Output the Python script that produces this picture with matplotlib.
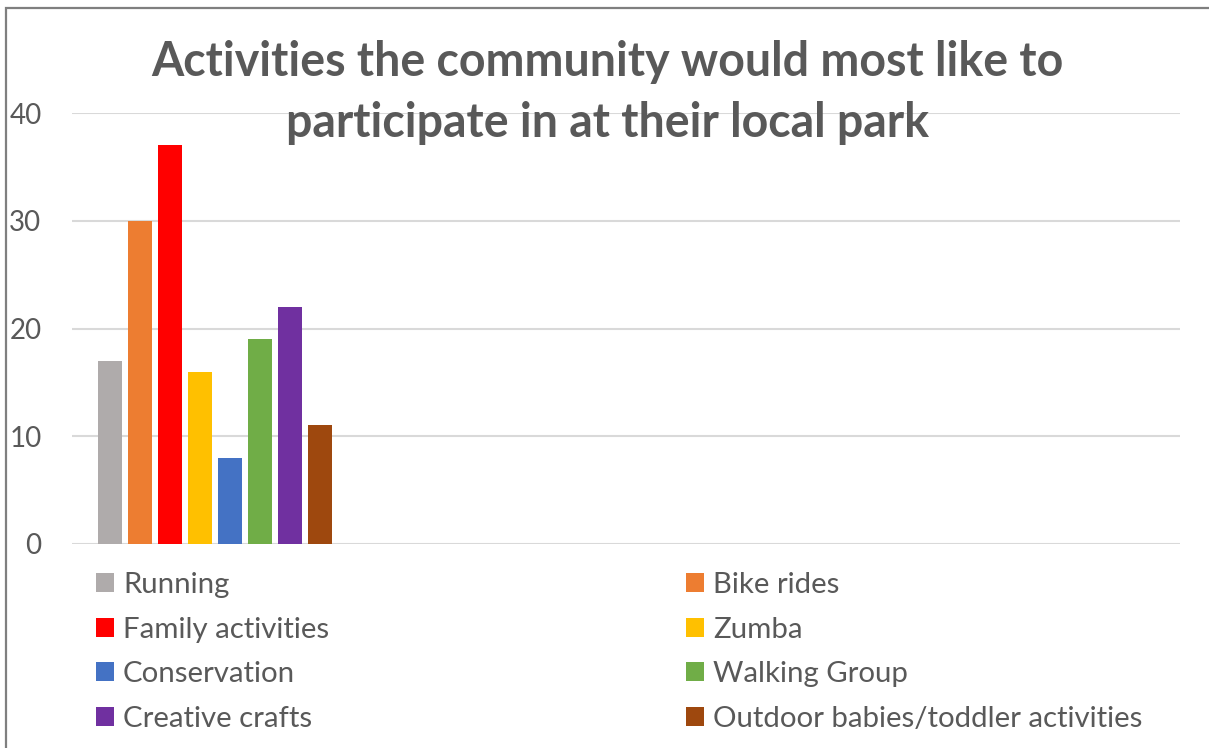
import matplotlib.pyplot as plt
from matplotlib.patches import Patch, Rectangle

# data
activities = ["Running", "Bike rides", "Family activities", "Zumba",
              "Conservation", "Walking Group", "Creative crafts",
              "Outdoor babies/toddler activities"]
votes = [17, 30, 37, 16, 8, 19, 22, 11]
colours = ["#AFABAB", "#ED7D31", "#FF0000", "#FFC000",
           "#4472C4", "#70AD47", "#7030A0", "#9E480E"]
yticks = [0, 10, 20, 30, 40]

plt.rcParams['font.family'] = ['Lato', 'DejaVu Sans']
text_col = "#595959"

W, H = 1209, 748
fig = plt.figure(figsize=(W / 100, H / 100), dpi=100)

# axes placed in pixel terms: left 72, right 1180, y=0 at 544, y=40 at 113
left, right, bottom, top = 72, 1180, 544, 113
ax = fig.add_axes([left / W, 1 - bottom / H, (right - left) / W, (bottom - top) / H])

x = list(range(len(votes)))
ax.bar(x, votes, width=0.8, color=colours, zorder=3)

ax.set_ylim(0, 40)
ax.set_xlim(-(110 - left) / 30, (right - 110) / 30)
ax.set_yticks(yticks)
ax.set_yticklabels([str(v) for v in yticks], fontsize=20, color=text_col)
ax.tick_params(axis='y', length=0, pad=22)
ax.set_xticks([])
ax.grid(axis='y', color="#D9D9D9", linewidth=1.5, zorder=0)
for s in ax.spines.values():
    s.set_visible(False)

# title
fig.text(607 / W, 1 - 62 / H, "Activities the community would most like to",
         ha='center', va='center', fontsize=33.5, fontweight='bold', color=text_col)
fig.text(607 / W, 1 - 123 / H, "participate in at their local park",
         ha='center', va='center', fontsize=33.5, fontweight='bold', color=text_col)

# legend, two columns laid out row by row
handles = [Patch(facecolor=c, edgecolor='none') for c in colours]
col1 = [0, 2, 4, 6]
col2 = [1, 3, 5, 7]
common = dict(frameon=False, fontsize=21.2, handlelength=0.61, handleheight=0.61,
              handletextpad=0.31, labelspacing=0.63, borderaxespad=0, borderpad=0,
              labelcolor=text_col)
leg1 = fig.legend([handles[i] for i in col1], [activities[i] for i in col1],
                  loc='upper left', bbox_to_anchor=(96 / W, 1 - 572 / H), **common)
leg2 = fig.legend([handles[i] for i in col2], [activities[i] for i in col2],
                  loc='upper left', bbox_to_anchor=(686 / W, 1 - 572 / H), **common)

# outer border of chart area
fig.patches.append(Rectangle((6 / W, -0.05), 1.2, 1 - 8 / H + 0.05,
                             transform=fig.transFigure, fill=False,
                             edgecolor="#7F7F7F", linewidth=1.6))

fig.savefig("out.png", dpi=100)
